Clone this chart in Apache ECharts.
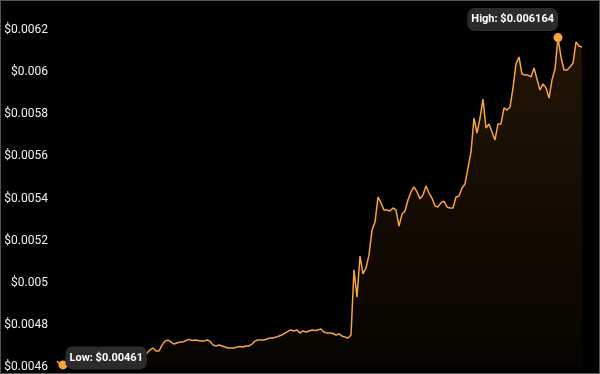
<!DOCTYPE html>
<html>
<head>
<meta charset="utf-8">
<script src="https://cdn.jsdelivr.net/npm/echarts@6/dist/echarts.min.js"></script>
<style>
  html, body { margin: 0; padding: 0; background: #000; }
  #chart { width: 600px; height: 374px; box-sizing: border-box; border: 1px solid #555; background: #000; }
</style>
</head>
<body>
<div id="chart"></div>
<script>
// Price series (USD), evenly spaced samples left to right
const prices = [
  0.004628, 0.004614, 0.004610, 0.004617, 0.004624, 0.004621, 0.004628, 0.004633, 0.004631, 0.004638,
  0.004640, 0.004638, 0.004645, 0.004647, 0.004645, 0.004652, 0.004650, 0.004655, 0.004657, 0.004655,
  0.004659, 0.004657, 0.004662, 0.004659, 0.004664, 0.004662, 0.004666, 0.004664, 0.004669, 0.004664,
  0.004666, 0.004681, 0.004690, 0.004676, 0.004676, 0.004704, 0.004723, 0.004728, 0.004719, 0.004709,
  0.004714, 0.004719, 0.004719, 0.004726, 0.004731, 0.004726, 0.004728, 0.004726, 0.004723, 0.004723,
  0.004728, 0.004723, 0.004704, 0.004700, 0.004704, 0.004700, 0.004695, 0.004690, 0.004690, 0.004690,
  0.004695, 0.004697, 0.004695, 0.004700, 0.004700, 0.004709, 0.004723, 0.004728, 0.004728, 0.004728,
  0.004733, 0.004738, 0.004738, 0.004742, 0.004747, 0.004752, 0.004761, 0.004769, 0.004776, 0.004771,
  0.004776, 0.004761, 0.004771, 0.004766, 0.004771, 0.004776, 0.004773, 0.004776, 0.004780, 0.004766,
  0.004761, 0.004761, 0.004759, 0.004752, 0.004757, 0.004747, 0.004742, 0.004738, 0.004752, 0.005061,
  0.004932, 0.005127, 0.005042, 0.005070, 0.005132, 0.005250, 0.005288, 0.005407, 0.005379, 0.005345,
  0.005345, 0.005341, 0.005355, 0.005345, 0.005269, 0.005326, 0.005341, 0.005393, 0.005431, 0.005455,
  0.005431, 0.005398, 0.005417, 0.005459, 0.005426, 0.005402, 0.005364, 0.005360, 0.005379, 0.005388,
  0.005360, 0.005355, 0.005355, 0.005407, 0.005412, 0.005450, 0.005469, 0.005545, 0.005621, 0.005782,
  0.005711, 0.005782, 0.005872, 0.005735, 0.005754, 0.005716, 0.005678, 0.005754, 0.005754, 0.005830,
  0.005820, 0.005834, 0.005925, 0.006039, 0.006072, 0.005991, 0.005986, 0.005986, 0.005977, 0.006020,
  0.005967, 0.005915, 0.005944, 0.005925, 0.005877, 0.005963, 0.006015, 0.006164, 0.006072, 0.006010,
  0.006010, 0.006024, 0.006043, 0.006143, 0.006124, 0.006119
];
const categories = prices.map((_, i) => i);
const yMin = 0.0046;
const yMax = 0.0062;
const yStep = 0.0002;
const highLabel = 'High: $0.006164';
const lowLabel = 'Low: $0.00461';

const chart = echarts.init(document.getElementById('chart'), null, { renderer: 'canvas' });
const orange = '#f7a440';
const tagLabel = {
  show: true,
  color: '#ffffff',
  fontFamily: 'Roboto',
  fontWeight: 'bold',
  fontSize: 11,
  lineHeight: 13,
  backgroundColor: '#2b2b2b',
  borderRadius: 7,
  padding: [5, 4]
};
chart.setOption({
  animation: false,
  backgroundColor: '#000',
  grid: { left: 56, right: 17, top: 29, bottom: 6, containLabel: false },
  xAxis: {
    type: 'category',
    data: categories,
    boundaryGap: false,
    show: false
  },
  yAxis: {
    type: 'value',
    min: yMin,
    max: yMax,
    interval: yStep,
    splitLine: { show: false },
    axisLine: { show: false },
    axisTick: { show: false },
    axisLabel: {
      color: '#f0f0f0',
      fontFamily: 'Roboto',
      fontSize: 12,
      margin: 9,
      formatter: v => '$' + parseFloat(v.toFixed(6))
    }
  },
  series: [{
    type: 'line',
    data: prices,
    showSymbol: false,
    smooth: false,
    lineStyle: { color: orange, width: 1.5 },
    itemStyle: { color: orange },
    areaStyle: {
      color: new echarts.graphic.LinearGradient(0, 0, 0, 1, [
        { offset: 0, color: 'rgba(247,147,40,0.20)' },
        { offset: 1, color: 'rgba(247,147,40,0.04)' }
      ])
    },
    markPoint: {
      symbol: 'circle',
      symbolSize: 9,
      itemStyle: { color: orange },
      data: [
        {
          type: 'max',
          label: Object.assign({}, tagLabel, {
            position: 'top', align: 'right', verticalAlign: 'bottom', distance: 2,
            offset: [0, 0],
            formatter: highLabel
          })
        },
        {
          type: 'min',
          label: Object.assign({}, tagLabel, {
            position: 'right', align: 'left', verticalAlign: 'middle', distance: 0,
            offset: [-2, -7],
            formatter: lowLabel
          })
        }
      ]
    }
  }]
});
</script>
</body>
</html>
